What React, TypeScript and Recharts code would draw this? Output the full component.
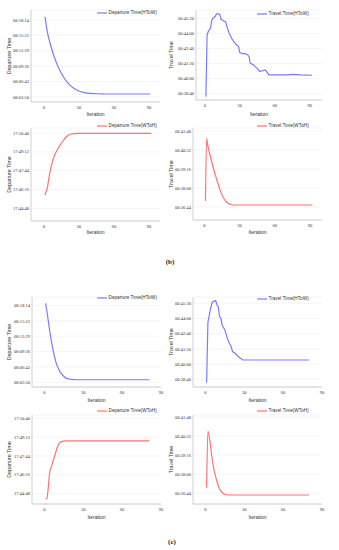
import React from 'react';
import { LineChart, Line, XAxis, YAxis, CartesianGrid, Legend } from 'recharts';

// ---------- data: [iteration, seconds] ----------
const depHToW_b: [number, number][] = [
  [1, 29928], [3, 29760], [5, 29650], [8, 29515], [11, 29407], [14, 29322], [17, 29252],
  [20, 29196], [23, 29155], [26, 29125], [30, 29098], [34, 29082], [40, 29070], [48, 29066],
  [60, 29064], [91, 29064],
];
const travHToW_b: [number, number][] = [
  [1, 2304], [2, 2633], [3, 2651], [5, 2670], [6, 2709], [7, 2722], [9, 2731], [10, 2745],
  [12, 2745], [13, 2740], [14, 2716], [16, 2709], [18, 2702], [19, 2677], [21, 2642],
  [23, 2615], [25, 2597], [27, 2580], [29, 2571], [30, 2539], [32, 2535], [35, 2532],
  [37, 2526], [38, 2517], [39, 2482], [42, 2473], [43, 2464], [45, 2455], [46, 2446],
  [47, 2439], [50, 2443], [52, 2446], [53, 2437], [55, 2420], [60, 2420], [70, 2420],
  [76, 2423], [82, 2420], [92, 2418],
];
const depWToH_b: [number, number][] = [
  [1, 63950], [3, 63985], [5, 64050], [8, 64118], [11, 64156], [14, 64184], [17, 64207],
  [20, 64226], [23, 64234], [26, 64237], [31, 64238], [92, 64238],
];
const travWToH_b: [number, number][] = [
  [1, 2228], [2, 2479], [3, 2450], [5, 2410], [8, 2355], [11, 2308], [13, 2278],
  [16, 2244], [19, 2223], [22, 2215], [25, 2212], [92, 2212],
];
const depHToW_c: [number, number][] = [
  [1, 29920], [3, 29732], [4, 29625], [7, 29375], [9, 29254], [12, 29150], [15, 29098],
  [17, 29074], [21, 29063], [25, 29059], [81, 29059],
];
const travHToW_c: [number, number][] = [
  [1, 2303], [2, 2620], [4, 2690], [5, 2720], [6, 2729], [8, 2734], [9, 2711], [10, 2702],
  [11, 2650], [12, 2641], [13, 2606], [15, 2580], [17, 2536], [18, 2518], [20, 2492],
  [21, 2466], [23, 2457], [25, 2443], [27, 2431], [29, 2422], [50, 2422], [80, 2422],
];
const depWToH_c: [number, number][] = [
  [1, 63863], [2, 63866], [3, 63913], [4, 63980], [6, 64025], [8, 64065], [11, 64118],
  [12, 64126], [15, 64133], [17, 64134], [81, 64134],
];
const travWToH_c: [number, number][] = [
  [1, 2225], [2, 2452], [4, 2395], [5, 2352], [6, 2316], [9, 2250], [11, 2220],
  [14, 2201], [16, 2197], [19, 2196], [80, 2196],
];

// ---------- tick values (seconds) ----------
const xTicks = [0, 30, 60, 90];
const depHToWTicks = [29030, 29203, 29376, 29549, 29722, 29894];
const travHToWTicks = [2320, 2400, 2480, 2560, 2640, 2720];
const depWToHTicks = [63888, 63976, 64064, 64152, 64240];
const travWToHTicks = [2204, 2280, 2356, 2432, 2508];

const seriesNames = {
  depHToW: 'Departure Time(HToW)',
  travHToW: 'Travel Time(HToW)',
  depWToH: 'Departure Time(WToH)',
  travWToH: 'Travel Time(WToH)',
};

const BLUE = '#7b7bff';
const RED = '#ff7373';
const SANS = '"Liberation Sans", Arial, sans-serif';
const SERIF = '"Liberation Serif", "Times New Roman", serif';

const pad = (n: number) => (n < 10 ? '0' + n : '' + n);
const fmt = (s: number) => {
  const t = Math.round(s);
  const h = Math.floor(t / 3600);
  const m = Math.floor((t % 3600) / 60);
  const sec = t % 60;
  return `${pad(h)}:${pad(m)}:${pad(sec)}`;
};

type Cfg = {
  left: number; top: number; w: number; h: number;
  yW: number; mr: number; mt: number; xH: number;
  xDomain: [number, number]; yDomain: [number, number]; yTicks: number[];
  yLabel: string; yLabelOff: number; xLabelOff: number;
  legX: number; legY: number;
  color: string; name: string; points: [number, number][]; curve: 'monotone' | 'linear';
};

const charts: Cfg[] = [
  { left: 0, top: 0, w: 170, h: 120, yW: 31, mr: 10, mt: 10, xH: 18, xDomain: [-11, 99.5], yDomain: [28974, 30006], yTicks: depHToWTicks, yLabel: 'Departure Time', yLabelOff: 9.3, xLabelOff: 4.2, legX: 97, legY: 13, color: BLUE, name: seriesNames.depHToW, points: depHToW_b, curve: 'monotone' },
  { left: 165, top: 0, w: 174, h: 120, yW: 31, mr: 17, mt: 10, xH: 20, xDomain: [-7.5, 100.5], yDomain: [2286, 2766], yTicks: travHToWTicks, yLabel: 'Travel Time', yLabelOff: 6.5, xLabelOff: 4.2, legX: 92, legY: 14, color: BLUE, name: seriesNames.travHToW, points: travHToW_b, curve: 'linear' },
  { left: 0, top: 120, w: 170, h: 120, yW: 31, mr: 10, mt: 8, xH: 19, xDomain: [-11, 99.5], yDomain: [63829, 64263], yTicks: depWToHTicks, yLabel: 'Departure Time', yLabelOff: 9.3, xLabelOff: 6.2, legX: 97, legY: 6, color: RED, name: seriesNames.depWToH, points: depWToH_b, curve: 'monotone' },
  { left: 165, top: 120, w: 174, h: 120, yW: 28, mr: 17, mt: 8, xH: 20, xDomain: [-9.6, 100.3], yDomain: [2152, 2520], yTicks: travWToHTicks, yLabel: 'Travel Time', yLabelOff: 6.5, xLabelOff: 6.2, legX: 92, legY: 6, color: RED, name: seriesNames.travWToH, points: travWToH_b, curve: 'monotone' },
  { left: 0, top: 285, w: 170, h: 120, yW: 32, mr: 9, mt: 12, xH: 18, xDomain: [-9.5, 90], yDomain: [28977, 29992], yTicks: depHToWTicks, yLabel: 'Departure Time', yLabelOff: 9.5, xLabelOff: 3.2, legX: 97, legY: 13, color: BLUE, name: seriesNames.depHToW, points: depHToW_c, curve: 'monotone' },
  { left: 165, top: 285, w: 174, h: 120, yW: 28, mr: 17, mt: 12, xH: 18, xDomain: [-9.5, 90], yDomain: [2280, 2753], yTicks: travHToWTicks, yLabel: 'Travel Time', yLabelOff: 6.5, xLabelOff: 3.2, legX: 92, legY: 14, color: BLUE, name: seriesNames.travHToW, points: travHToW_c, curve: 'linear' },
  { left: 0, top: 405, w: 170, h: 120, yW: 32, mr: 9, mt: 10, xH: 21, xDomain: [-9.5, 90], yDomain: [63840, 64255], yTicks: depWToHTicks, yLabel: 'Departure Time', yLabelOff: 9.5, xLabelOff: 6.2, legX: 97, legY: 6, color: RED, name: seriesNames.depWToH, points: depWToH_c, curve: 'monotone' },
  { left: 165, top: 405, w: 174, h: 120, yW: 28, mr: 17, mt: 10, xH: 21, xDomain: [-9.5, 90], yDomain: [2160, 2516], yTicks: travWToHTicks, yLabel: 'Travel Time', yLabelOff: 6.5, xLabelOff: 6.2, legX: 92, legY: 6, color: RED, name: seriesNames.travWToH, points: travWToH_c, curve: 'monotone' },
];

const LegendBox = (props: any) => {
  const p = (props.payload && props.payload[0]) || {};
  return (
    <div style={{ display: 'flex', alignItems: 'center', height: 6, whiteSpace: 'nowrap', fontFamily: SANS, fontSize: 4.7, color: '#333', lineHeight: 1 }}>
      <svg width={10} height={4} style={{ display: 'block' }}>
        <line x1={0} y1={2} x2={10} y2={2} stroke={p.color} strokeWidth={1.2} />
      </svg>
      <span style={{ marginLeft: 1.5 }}>{p.value}</span>
    </div>
  );
};

const Mini = ({ c }: { c: Cfg }) => {
  const data = c.points.map(([it, v]) => ({ it, v }));
  return (
    <div style={{ position: 'absolute', left: c.left, top: c.top }}>
      <LineChart width={c.w} height={c.h} data={data} margin={{ top: c.mt, right: c.mr, left: 0, bottom: 0 }}>
        <CartesianGrid vertical={false} stroke="#efefef" strokeWidth={0.6} />
        <XAxis
          dataKey="it" type="number" domain={c.xDomain} ticks={xTicks} allowDataOverflow
          height={c.xH} tickLine={false} tickSize={0} tickMargin={3.5}
          axisLine={{ stroke: '#c4c4c4', strokeWidth: 0.8 }}
          tick={{ fontSize: 4.5, fontFamily: SERIF, fill: '#333' }}
          label={{ value: 'Iteration', position: 'insideBottom', offset: c.xLabelOff, style: { fontSize: 5, fontFamily: SANS, fill: '#333' } }}
        />
        <YAxis
          type="number" domain={c.yDomain} ticks={c.yTicks} allowDataOverflow interval={0}
          width={c.yW} tickLine={false} tickSize={0} tickMargin={2} tickFormatter={fmt}
          axisLine={{ stroke: '#c4c4c4', strokeWidth: 0.8 }}
          tick={{ fontSize: 4.5, fontFamily: SERIF, fill: '#333' }}
          label={{ value: c.yLabel, angle: -90, position: 'insideLeft', offset: c.yLabelOff, style: { fontSize: 5.3, fontFamily: SANS, fill: '#333', textAnchor: 'middle' } }}
        />
        <Legend
          layout="horizontal" verticalAlign="middle" align="center"
          content={<LegendBox />}
          wrapperStyle={{ left: c.legX, top: c.legY - 3, width: 'auto', height: 6 }}
        />
        <Line
          dataKey="v" name={c.name} type={c.curve} stroke={c.color} strokeWidth={1.2}
          dot={false} activeDot={false} isAnimationActive={false}
        />
      </LineChart>
    </div>
  );
};

export default function App() {
  return (
    <div style={{ position: 'absolute', left: 0, top: 0, width: 339, height: 550, background: '#fff', overflow: 'hidden' }}>
      {charts.map((c, i) => (
        <Mini key={i} c={c} />
      ))}
      <div style={{ position: 'absolute', left: 150, top: 258, width: 40, textAlign: 'center', fontFamily: SERIF, fontSize: 7, fontWeight: 'bold', color: '#222', lineHeight: '9px' }}>(b)</div>
      <div style={{ position: 'absolute', left: 152, top: 538, width: 40, textAlign: 'center', fontFamily: SERIF, fontSize: 7, fontWeight: 'bold', color: '#222', lineHeight: '9px' }}>(c)</div>
    </div>
  );
}
